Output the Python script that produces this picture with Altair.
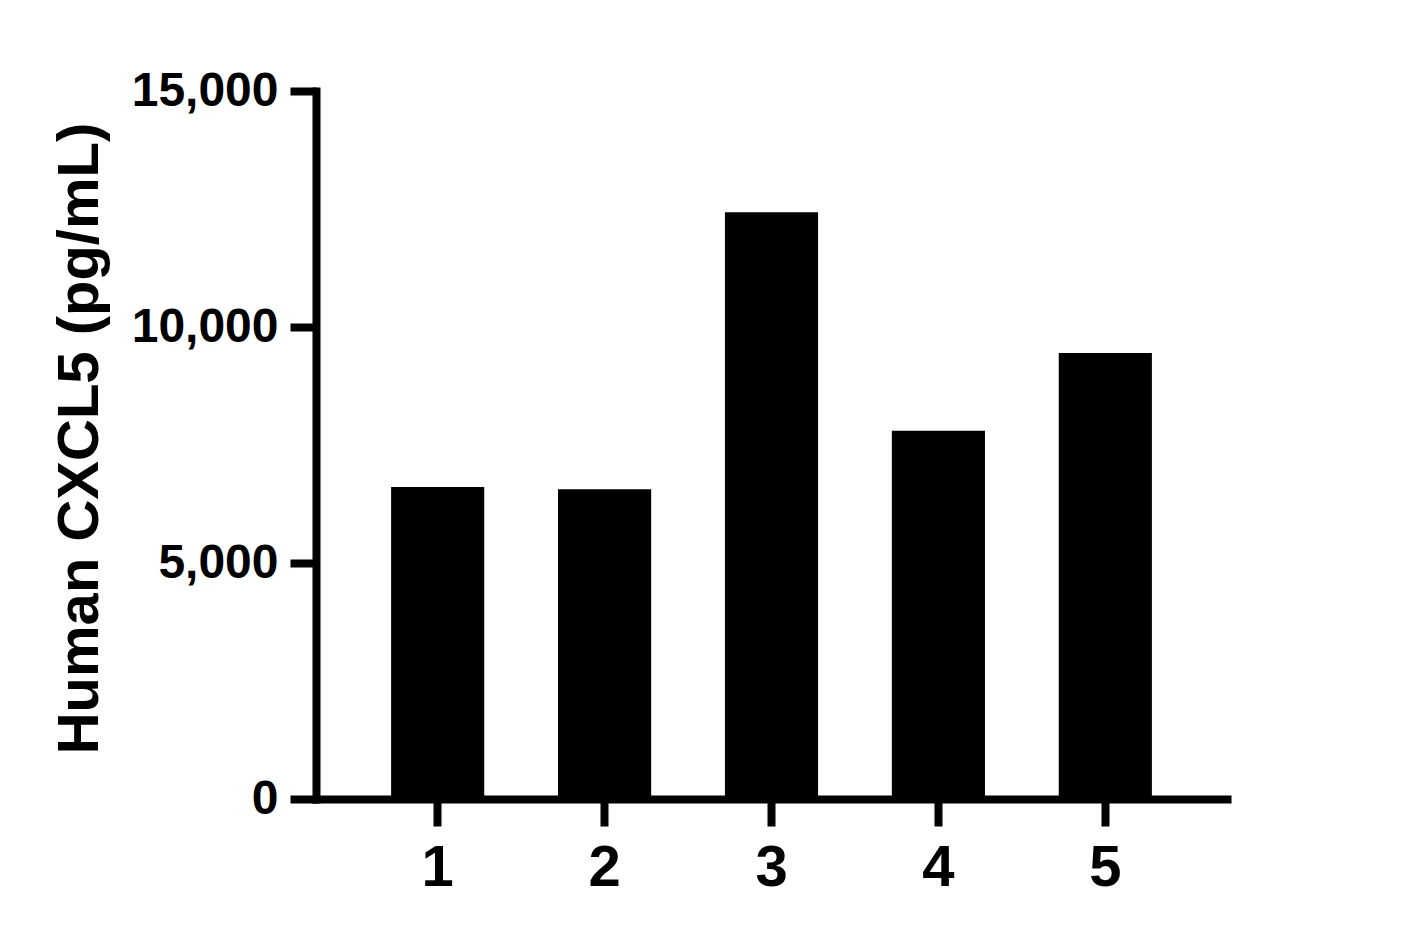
import altair as alt
import pandas as pd

samples = ["1", "2", "3", "4", "5"]
values = [6610, 6565, 12430, 7800, 9450]

df = pd.DataFrame({"sample": samples, "value": values})

FONT = "Liberation Sans"

chart = alt.Chart(df).mark_bar(color="black").encode(
    x=alt.X(
        "sample:N",
        sort=samples,
        scale=alt.Scale(paddingInner=0.442, paddingOuter=0.45),
        axis=alt.Axis(
            title=None,
            labelAngle=0,
            labelFont=FONT,
            labelFontWeight="bold",
            labelFontSize=58,
            labelColor="black",
            labelPadding=13,
            tickSize=27,
            tickWidth=8,
            tickColor="black",
            domainWidth=8,
            domainColor="black",
            domainCap="square",
            grid=False,
        ),
    ),
    y=alt.Y(
        "value:Q",
        scale=alt.Scale(domain=[0, 15000], nice=False),
        axis=alt.Axis(
            title="Human CXCL5 (pg/mL)",
            values=[0, 5000, 10000, 15000],
            format=",d",
            labelFont=FONT,
            labelFontWeight="bold",
            labelFontSize=48,
            labelColor="black",
            labelPadding=12,
            tickSize=26,
            tickWidth=8,
            tickColor="black",
            domainWidth=8,
            domainColor="black",
            domainCap="square",
            grid=False,
            titleFont=FONT,
            titleFontWeight="bold",
            titleFontSize=58,
            titleColor="black",
            titleAngle=-90,
            titleAlign="center",
            titleBaseline="bottom",
            titleX=-207,
            titleY=347,
        ),
    ),
).properties(
    width=911,
    height=708,
    autosize=alt.AutoSizeParams(type="none"),
    padding={"left": 308, "top": 83, "right": 150, "bottom": 120},
).configure(background="white").configure_view(stroke=None, strokeWidth=0)

chart.save("out.html", embed_options={"renderer": "svg", "actions": False})
